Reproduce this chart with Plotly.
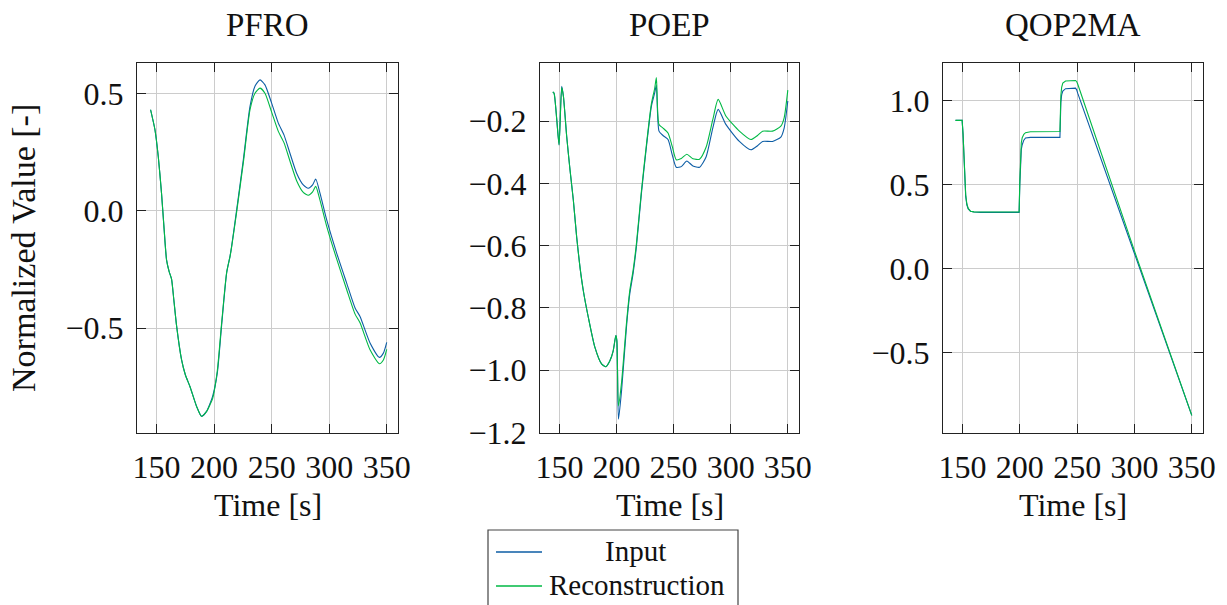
import plotly.graph_objects as go

# ---- signal data (time in s, normalized values) ----
pfro_t = [144.8, 148.6, 151.5, 154.3, 156.5, 158.7, 161.0, 163.0, 165.0, 167.4,
          171.7, 175.0, 179.0, 184.8, 189.1, 193.5, 196.5, 198.7, 202.8, 206.5,
          210.9, 213.8, 215.2, 219.6, 225.4, 231.2, 235.5, 239.9, 244.2, 250.0,
          255.8, 260.7, 265.9, 271.7, 277.5, 281.9, 285.6, 288.3, 292.0, 297.8,
          306.5, 315.2, 322.5, 326.8, 335.5, 343.6, 347.1, 350.0]
pfro_input = [0.43, 0.345, 0.23, 0.075, -0.074, -0.21, -0.26, -0.29, -0.379, -0.49,
              -0.634, -0.698, -0.748, -0.833, -0.875, -0.854, -0.82, -0.79, -0.69, -0.49,
              -0.265, -0.194, -0.152, 0.004, 0.217, 0.444, 0.53, 0.557, 0.536, 0.458,
              0.373, 0.323, 0.245, 0.16, 0.11, 0.096, 0.11, 0.135, 0.075, -0.038,
              -0.18, -0.308, -0.414, -0.45, -0.563, -0.624, -0.606, -0.56]
pfro_recon = [0.43, 0.345, 0.23, 0.075, -0.074, -0.21, -0.26, -0.29, -0.379, -0.49,
              -0.634, -0.698, -0.748, -0.833, -0.875, -0.854, -0.825, -0.80, -0.68, -0.48,
              -0.262, -0.196, -0.155, -0.005, 0.205, 0.43, 0.50, 0.522, 0.50, 0.42,
              0.338, 0.29, 0.212, 0.128, 0.078, 0.066, 0.08, 0.104, 0.045, -0.065,
              -0.205, -0.335, -0.44, -0.477, -0.592, -0.651, -0.635, -0.59]

poep_t = [144.2, 145.3, 147.7, 149.7, 152.0, 153.5, 156.4, 159.3, 162.2, 165.1,
          168.0, 170.9, 175.3, 181.1, 186.9, 190.7, 194.2, 197.1, 199.4, 200.3,
          201.7, 204.4, 208.7, 211.6, 214.5, 217.4, 221.8, 226.2, 230.5, 233.4,
          234.9, 237.2, 240.7, 245.1, 248.8, 252.3, 256.7, 261.6, 266.9, 272.7,
          278.5, 284.3, 289.0, 295.9, 307.6, 317.7, 323.5, 327.9, 336.6, 343.9,
          346.8, 350.0]
poep_input = [-0.106, -0.11, -0.196, -0.276, -0.088, -0.12, -0.25, -0.357, -0.454, -0.572,
              -0.669, -0.744, -0.83, -0.927, -0.98, -0.989, -0.97, -0.938, -0.889, -0.905,
              -1.158, -1.067, -0.862, -0.755, -0.69, -0.604, -0.432, -0.282, -0.153, -0.11,
              -0.085, -0.232, -0.246, -0.259, -0.308, -0.348, -0.346, -0.328, -0.344, -0.348,
              -0.314, -0.222, -0.162, -0.211, -0.265, -0.292, -0.279, -0.265, -0.265, -0.251,
              -0.222, -0.135]
poep_recon = [-0.106, -0.11, -0.196, -0.276, -0.092, -0.12, -0.25, -0.357, -0.454, -0.572,
              -0.669, -0.744, -0.83, -0.927, -0.98, -0.989, -0.97, -0.938, -0.889, -0.905,
              -1.115, -1.04, -0.85, -0.745, -0.68, -0.595, -0.425, -0.275, -0.145, -0.095,
              -0.06, -0.211, -0.222, -0.238, -0.281, -0.324, -0.32, -0.306, -0.321, -0.322,
              -0.283, -0.195, -0.13, -0.184, -0.232, -0.259, -0.246, -0.232, -0.232, -0.216,
              -0.189, -0.10]

qop_t = [143.9, 149.7, 150.5, 151.2, 152.0, 152.8, 153.8, 155.0, 157.0, 160.0,
         165.7, 199.4, 200.0, 200.6, 201.3, 202.1, 203.5, 205.0, 209.3, 235.0,
         235.3, 235.8, 236.5, 237.5, 239.9, 248.6, 249.6, 250.5, 300.0, 350.0]
qop_input = [0.883, 0.883, 0.80, 0.649, 0.52, 0.43, 0.38, 0.355, 0.341, 0.337,
             0.335, 0.335, 0.50, 0.649, 0.71, 0.738, 0.765, 0.778, 0.782, 0.782,
             0.90, 0.99, 1.035, 1.058, 1.072, 1.075, 1.065, 1.045, 0.09, -0.875]
qop_recon = [0.883, 0.883, 0.80, 0.66, 0.53, 0.44, 0.385, 0.358, 0.342, 0.338,
             0.337, 0.337, 0.52, 0.68, 0.75, 0.78, 0.80, 0.81, 0.815, 0.817,
             0.93, 1.03, 1.08, 1.105, 1.118, 1.121, 1.115, 1.10, 0.105, -0.875]

titles = ["PFRO", "POEP", "QOP2MA"]
series_names = ["Input", "Reconstruction"]
x_ticks = [150, 200, 250, 300, 350]
y_ticks = [
    [-0.5, 0.0, 0.5],
    [-1.2, -1.0, -0.8, -0.6, -0.4, -0.2],
    [-0.5, 0.0, 0.5, 1.0],
]
y_tick_text = [
    ["−0.5", "0.0", "0.5"],
    ["−1.2", "−1.0", "−0.8", "−0.6", "−0.4", "−0.2"],
    ["−0.5", "0.0", "0.5", "1.0"],
]
y_ranges = [[-0.946, 0.629], [-1.202, -0.013], [-0.98, 1.225]]
x_range = [133.0, 359.8]

INPUT_COLOR = "#0C5DA5"
RECON_COLOR = "#00B945"
FONT = "'Liberation Serif', 'Times New Roman', Times, serif"
TXT = "#111111"

W, H = 1227, 605
panel_px = [(137, 398), (540, 799), (943, 1203)]
top_px, bottom_px = 63, 433

signals = [
    (pfro_t, pfro_input, pfro_recon, "spline"),
    (poep_t, poep_input, poep_recon, "spline"),
    (qop_t, qop_input, qop_recon, "linear"),
]

fig = go.Figure()
layout = {}
annotations = []
shapes = []

for i, (t, inp, rec, shape) in enumerate(signals):
    n = "" if i == 0 else str(i + 1)
    xa, ya = "x" + n, "y" + n
    for vals, name, color in ((inp, series_names[0], INPUT_COLOR),
                              (rec, series_names[1], RECON_COLOR)):
        fig.add_trace(go.Scatter(
            x=t, y=vals, mode="lines", name=name,
            line=dict(color=color, width=1.1, shape=shape, smoothing=0.6),
            xaxis=xa, yaxis=ya, showlegend=False))
    x0, x1 = panel_px[i]
    common = dict(
        showline=True, linecolor="#222222", linewidth=1.3, mirror="ticks",
        ticks="inside", ticklen=9, tickwidth=1.3, tickcolor="#222222",
        showgrid=True, gridcolor="#cccccc", gridwidth=1, zeroline=False,
        tickfont=dict(family=FONT, size=32, color=TXT),
        automargin=False,
    )
    layout["xaxis" + n] = dict(
        common, domain=[x0 / W, x1 / W], anchor=ya, range=x_range,
        tickmode="array", tickvals=x_ticks, ticklabelstandoff=5,
    )
    layout["yaxis" + n] = dict(
        common, domain=[1 - bottom_px / H, 1 - top_px / H], anchor=xa,
        range=y_ranges[i], tickmode="array", tickvals=y_ticks[i],
        ticktext=y_tick_text[i], ticklabelstandoff=6,
    )
    cx = (x0 + x1) / 2 / W
    annotations.append(dict(text=titles[i], x=cx, y=1 - 25 / H, xref="paper", yref="paper",
                            showarrow=False, xanchor="center", yanchor="middle",
                            font=dict(family=FONT, size=33, color=TXT)))
    annotations.append(dict(text="Time [s]", x=cx, y=1 - 505 / H, xref="paper", yref="paper",
                            showarrow=False, xanchor="center", yanchor="middle",
                            font=dict(family=FONT, size=32, color=TXT)))

annotations.append(dict(text="Normalized Value [-]", x=23 / W, y=1 - 248 / H,
                        xref="paper", yref="paper", showarrow=False, textangle=-90,
                        xanchor="center", yanchor="middle",
                        font=dict(family=FONT, size=34, color=TXT)))

# legend box below the middle panel (runs past the bottom edge of the page)
shapes.append(dict(type="rect", xref="paper", yref="paper",
                   x0=488 / W, x1=738 / W, y0=1 - 640 / H, y1=1 - 530 / H,
                   line=dict(color="#444444", width=1.2), fillcolor="white", layer="above"))
for k, (name, color, ypx) in enumerate(((series_names[0], INPUT_COLOR, 552),
                                         (series_names[1], RECON_COLOR, 586))):
    shapes.append(dict(type="line", xref="paper", yref="paper",
                       x0=496 / W, x1=542 / W, y0=1 - ypx / H, y1=1 - ypx / H,
                       line=dict(color=color, width=1.3), layer="above"))
    if k == 0:
        annotations.append(dict(text=name, x=636 / W, y=1 - (ypx - 1) / H,
                                xref="paper", yref="paper", showarrow=False,
                                xanchor="center", yanchor="middle",
                                font=dict(family=FONT, size=29, color=TXT)))
    else:
        annotations.append(dict(text=name, x=547 / W, y=1 - (ypx - 1) / H,
                                xref="paper", yref="paper", showarrow=False,
                                xanchor="left", yanchor="middle",
                                font=dict(family=FONT, size=29, color=TXT)))

fig.update_layout(
    **layout,
    annotations=annotations,
    shapes=shapes,
    width=W, height=H,
    margin=dict(l=0, r=0, t=0, b=0),
    paper_bgcolor="white", plot_bgcolor="white",
    showlegend=False,
)

fig.write_html("out.html")
